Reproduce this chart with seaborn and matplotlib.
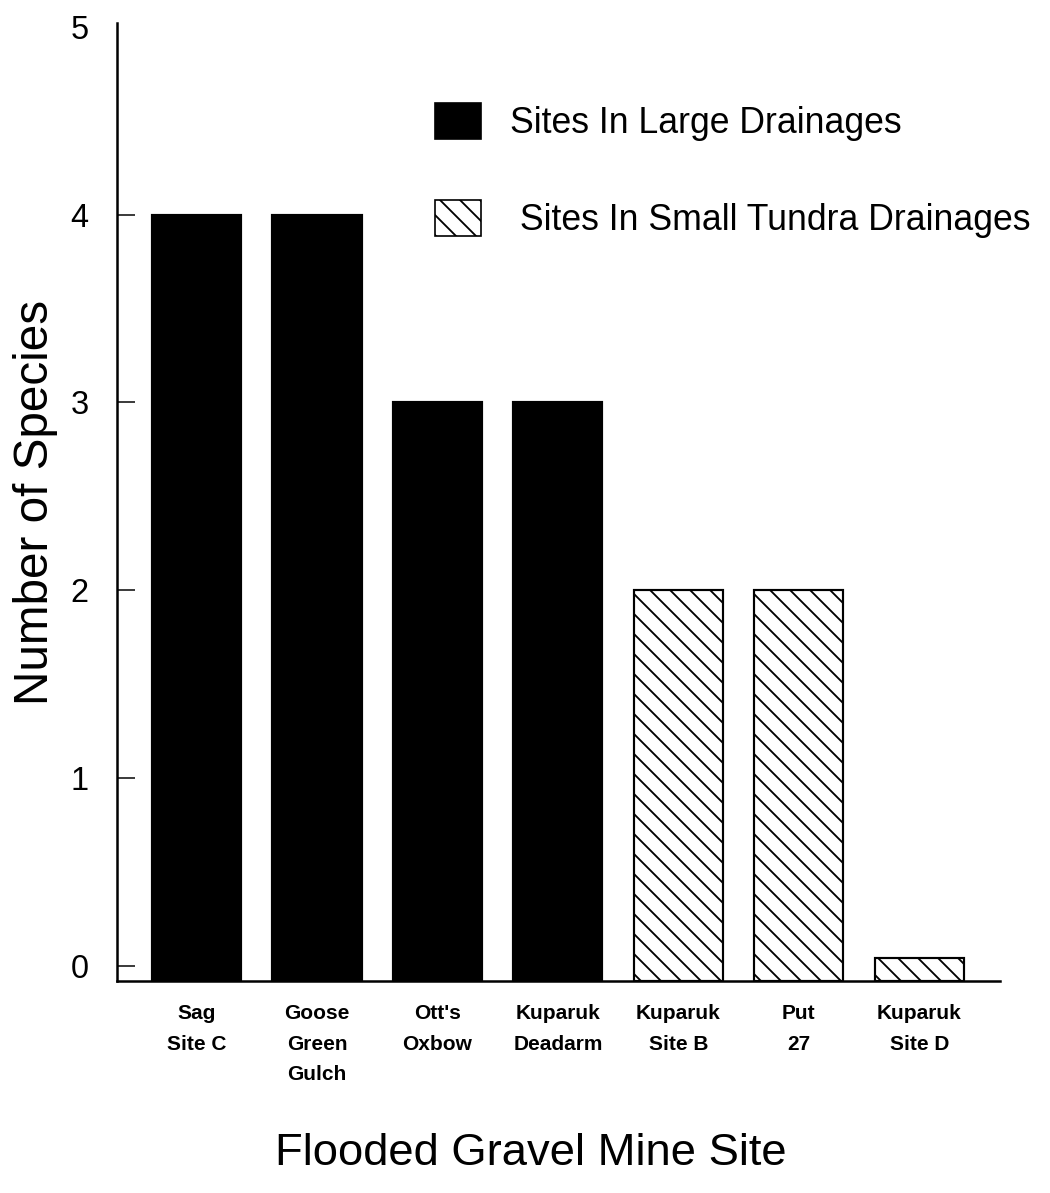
import matplotlib
matplotlib.use("Agg")
import matplotlib.pyplot as plt
import pandas as pd
import seaborn as sns
from matplotlib.patches import Patch

# values
sites = ["Sag\nSite C", "Goose\nGreen\nGulch", "Ott's\nOxbow", "Kuparuk\nDeadarm",
         "Kuparuk\nSite B", "Put\n27", "Kuparuk\nSite D"]
species = [4, 4, 3, 3, 2, 2, 0.04]
drainage = ["Large", "Large", "Large", "Large", "Small", "Small", "Small"]
legend_labels = ["Sites In Large Drainages", " Sites In Small Tundra Drainages"]
y_ticks = [0, 1, 2, 3, 4, 5]

BASE = -0.08  # bars sit on the bottom spine, just under zero
HATCH = "\\\\"

sns.set_style("white")
plt.rcParams["font.family"] = ["Liberation Sans", "DejaVu Sans"]
plt.rcParams["hatch.linewidth"] = 1.1
plt.rcParams["text.color"] = "black"
plt.rcParams["axes.labelcolor"] = "black"
plt.rcParams["xtick.color"] = "black"
plt.rcParams["ytick.color"] = "black"

df = pd.DataFrame({"site": sites, "species": species, "drainage": drainage})

fig = plt.figure(figsize=(1050 / 120, 1193 / 120), dpi=120)
ax = fig.add_axes([117 / 1050, 1 - 981 / 1193, 883 / 1050, 958 / 1193])

sns.barplot(data=df, x="site", y="species", hue="drainage",
            palette={"Large": "black", "Small": "white"}, dodge=False,
            width=0.74, edgecolor="black", linewidth=1.3, errorbar=None,
            legend=False, ax=ax)

for p in ax.patches:
    top = p.get_y() + p.get_height()
    p.set_y(BASE)
    p.set_height(top - BASE)
    if p.get_facecolor()[0] > 0.5:
        p.set_hatch(HATCH)

ax.set_xlim(-0.66, 6.67)
ax.set_ylim(BASE, 5.02)
ax.set_yticks(y_ticks)

sns.despine(ax=ax)
for side in ["left", "bottom"]:
    ax.spines[side].set_linewidth(1.5)
    ax.spines[side].set_color("black")

ax.tick_params(axis="both", direction="in", length=10.5, width=0.9,
               color="black", left=True, bottom=True)
ax.tick_params(axis="y", labelsize=19.5, pad=17)
ax.tick_params(axis="x", labelsize=12.5, pad=14)
ax.yaxis.get_major_ticks()[-1].tick1line.set_visible(False)
for lab in ax.get_xticklabels():
    lab.set_fontweight("bold")
    lab.set_linespacing(1.75)

ax.set_ylabel("Number of Species", fontsize=28.6)
ax.yaxis.set_label_coords(-0.067, 0.5)
ax.set_xlabel("Flooded Gravel Mine Site", fontsize=27.2)
ax.xaxis.set_label_coords(0.469, -0.159)

handles = [
    Patch(facecolor="black", edgecolor="black", label=legend_labels[0]),
    Patch(facecolor="white", edgecolor="black", hatch=HATCH, label=legend_labels[1]),
]
ax.legend(handles=handles, loc="upper left", bbox_to_anchor=(0.36, 0.917),
          frameon=False, fontsize=21.4, handlelength=1.3, handleheight=1.2,
          handletextpad=0.8, labelspacing=1.65, borderpad=0, borderaxespad=0)

fig.savefig("out.png", dpi=120)
plt.close(fig)
